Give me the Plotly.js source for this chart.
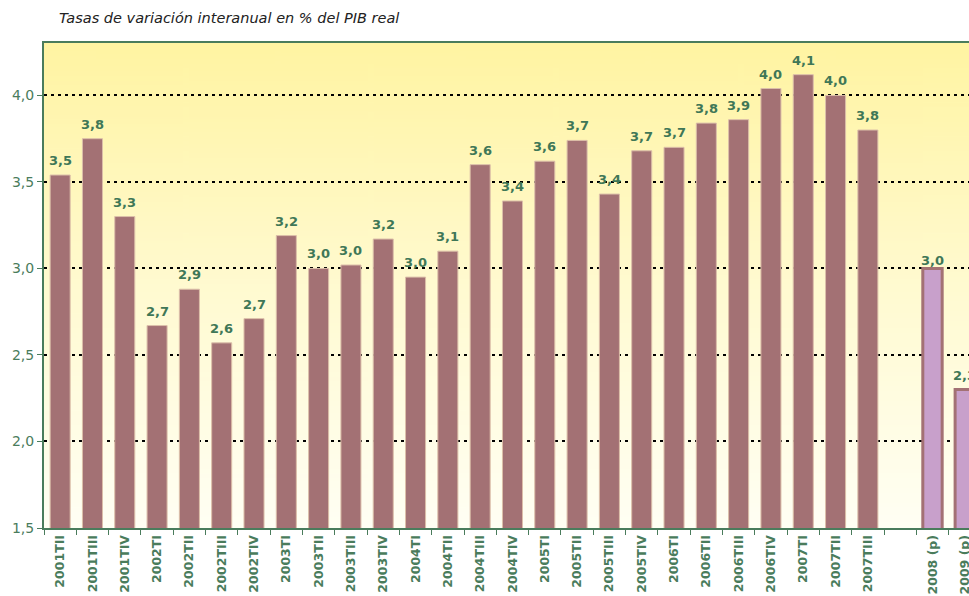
<!DOCTYPE html>
<html>
<head>
<meta charset="utf-8">
<script src="https://cdn.plot.ly/plotly-3.0.1.min.js"></script>
<style>html,body{margin:0;padding:0;background:#fff;}#chart{width:969px;height:596px;}</style>
</head>
<body>
<div id="chart"></div>
<script>
// ---- data ----
const quarters = ['2001TII','2001TIII','2001TIV','2002TI','2002TII','2002TIII','2002TIV',
  '2003TI','2003TII','2003TIII','2003TIV','2004TI','2004TII','2004TIII','2004TIV',
  '2005TI','2005TII','2005TIII','2005TIV','2006TI','2006TII','2006TIII','2006TIV',
  '2007TI','2007TII','2007TIII'];
const quarterValues = [3.54,3.75,3.30,2.67,2.88,2.57,2.71,
  3.19,3.00,3.02,3.17,2.95,3.10,3.60,3.39,
  3.62,3.74,3.43,3.68,3.70,3.84,3.86,4.04,
  4.12,4.00,3.80];
const gapLabel = [' '];
const forecastLabels = ['2008 (p)','2009 (p)'];
const forecastValues = [3.00,2.30];
const titleText = 'Tasas de variación interanual en % del PIB real';

const categories = quarters.concat(gapLabel, forecastLabels);

// background gradient for plot area
const cv = document.createElement('canvas');
cv.width = 10; cv.height = 200;
const ctx = cv.getContext('2d');
const g = ctx.createLinearGradient(0,0,0,200);
g.addColorStop(0,'#fff4a2');
g.addColorStop(0.5,'#fffad0');
g.addColorStop(1,'#fffff4');
ctx.fillStyle = g; ctx.fillRect(0,0,10,200);
const bgURL = cv.toDataURL('image/png');

const green = '#4a7c5c';
const labelGreen = '#3f7757';
const fmt = v => v.toFixed(1).replace('.', ',');

const traces = [
  {
    type:'bar', x: quarters, y: quarterValues, width: 0.62,
    marker:{color:'#a37174', line:{color:'#dcbfa9', width:1}},
    hoverinfo:'skip'
  },
  {
    type:'bar', x: forecastLabels, y: forecastValues, width: 0.6,
    marker:{color:'#c8a0cb', line:{color:'#a37174', width:3}},
    hoverinfo:'skip'
  }
];

const labelFont = {family:'DejaVu Sans', size:13, color:labelGreen, weight:'bold'};
const annotations = [];
quarters.forEach((q,i) => annotations.push({x:q, y:quarterValues[i], xref:'x', yref:'y',
  text:fmt(quarterValues[i]), showarrow:false, yanchor:'bottom', yshift:5, font:labelFont}));
forecastLabels.forEach((q,i) => annotations.push({x:q, y:forecastValues[i], xref:'x', yref:'y',
  text:fmt(forecastValues[i]), showarrow:false, yanchor:'bottom', yshift:i===0?-2:5, font:labelFont}));

const layout = {
  width:969, height:596,
  margin:{l:44, r:0, t:43, b:68, pad:0},
  paper_bgcolor:'#ffffff',
  plot_bgcolor:'rgba(0,0,0,0)',
  separators:',.',
  showlegend:false,
  barmode:'overlay',
  title:{text:titleText, xref:'container', yref:'container', x:59/969, xanchor:'left',
    y:1-18/596, yanchor:'middle',
    font:{family:'DejaVu Sans', size:14.5, color:'#222222', style:'italic'}},
  xaxis:{
    type:'category', categoryorder:'array', categoryarray:categories,
    range:[-0.5, 28.13], fixedrange:true,
    tickson:'boundaries', ticks:'outside', ticklen:5, tickwidth:1, tickcolor:green,
    showline:true, linecolor:green, linewidth:2, mirror:true,
    showgrid:false, tickangle:-90, automargin:false,
    tickfont:{family:'DejaVu Sans', size:12.5, color:green, weight:'bold'}
  },
  yaxis:{
    range:[1.5, 4.303], tick0:1.5, dtick:0.5, tickformat:'.1f',
    ticks:'outside', ticklen:5, tickwidth:1, tickcolor:green,
    showline:true, linecolor:green, linewidth:2, mirror:false,
    showgrid:true, gridcolor:'#000000', gridwidth:2, griddash:'3px,4px',
    zeroline:false, automargin:false, fixedrange:true,
    tickfont:{family:'DejaVu Sans', size:14, color:green}
  },
  annotations: annotations,
  images:[{source:bgURL, xref:'paper', yref:'paper', x:0, y:1, sizex:1, sizey:1,
    xanchor:'left', yanchor:'top', sizing:'stretch', layer:'below'}]
};

Plotly.newPlot('chart', traces, layout, {displayModeBar:false, staticPlot:true});
</script>
</body>
</html>
